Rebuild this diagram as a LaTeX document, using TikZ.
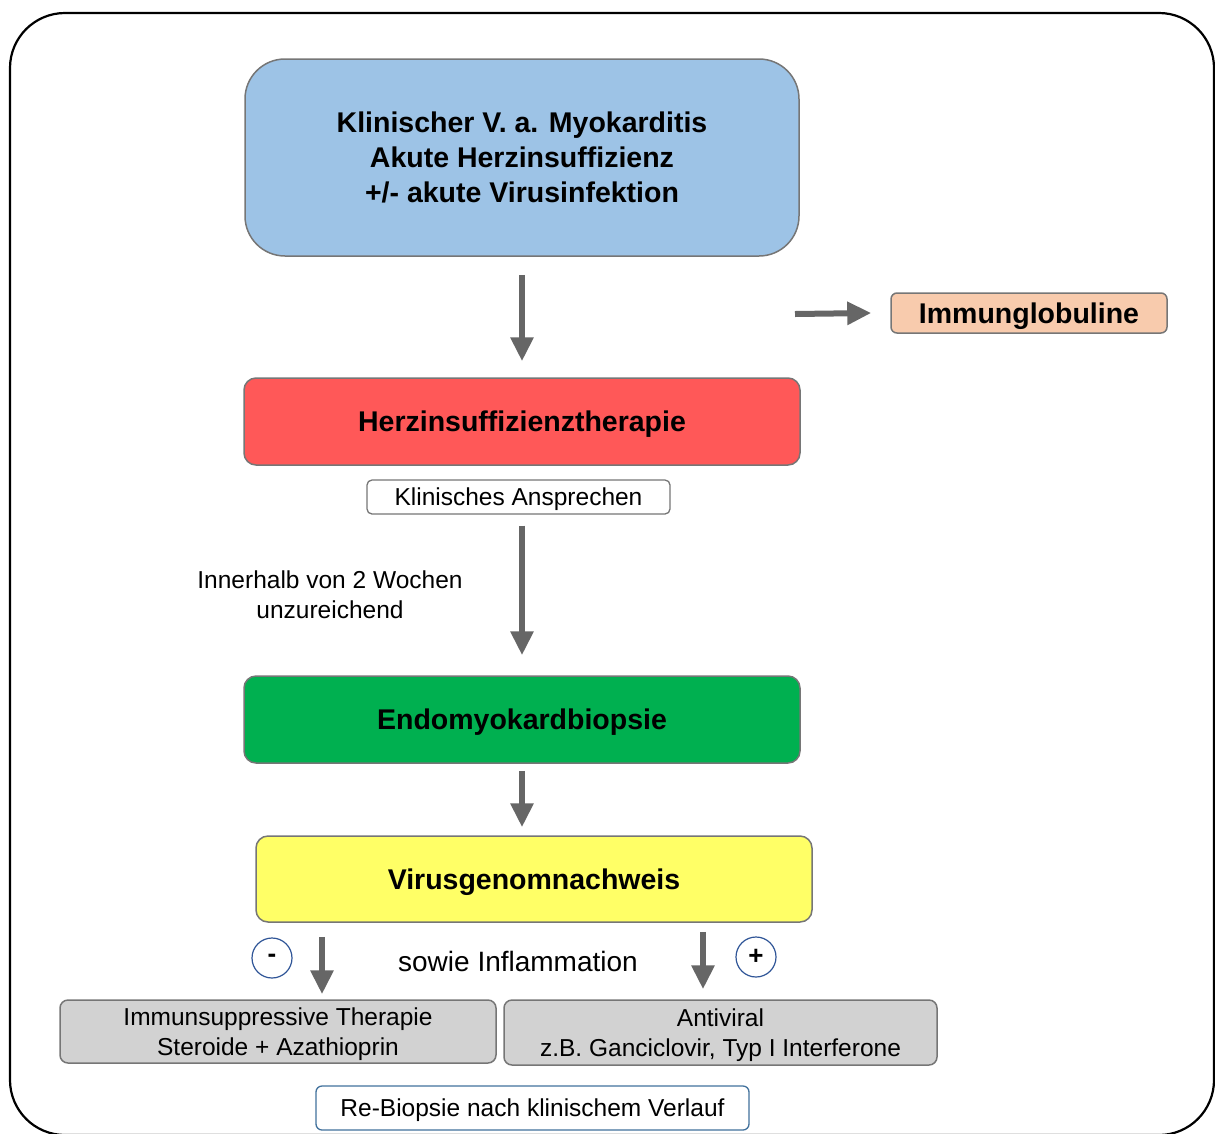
\documentclass[tikz,border=0pt]{standalone}
\usepackage{fontspec}
\setmainfont{Liberation Sans}
\usetikzlibrary{arrows.meta}
\definecolor{bluefill}{RGB}{157,195,230}
\definecolor{redfill}{RGB}{255,88,88}
\definecolor{greenfill}{RGB}{0,176,80}
\definecolor{yellowfill}{RGB}{255,255,102}
\definecolor{peachfill}{RGB}{248,203,173}
\definecolor{grayfill}{RGB}{210,210,210}
\definecolor{boxborder}{RGB}{118,118,118}
\definecolor{arrowgray}{RGB}{102,102,102}
\definecolor{navyline}{RGB}{47,85,151}
\definecolor{blueline}{RGB}{65,113,156}
\tikzset{
  titlefont/.style={font=\fontsize{28.5}{35}\selectfont\bfseries},
  plainfont/.style={font=\fontsize{24.5}{30}\selectfont},
  colbox/.style={draw=boxborder, line width=1.5pt, rounded corners=12pt, inner sep=0pt, align=center, titlefont, text depth=0pt},
  whitebox/.style={draw=boxborder, line width=1.3pt, rounded corners=5pt, fill=white, inner sep=0pt, align=center, plainfont, text depth=0pt},
  graybox/.style={draw=boxborder, line width=1.5pt, rounded corners=8pt, fill=grayfill, inner sep=0pt, align=center, plainfont, text depth=0pt},
  signcirc/.style={draw=navyline, line width=1.2pt, circle, minimum size=40pt, inner sep=0pt, font=\fontsize{26}{26}\selectfont\bfseries},
  garrow/.style={draw=arrowgray, line width=6pt, -{Triangle[width=22pt,length=24pt]}},
}
\begin{document}
\begin{tikzpicture}[x=1pt,y=-1pt]
\useasboundingbox (0,0) rectangle (1215,1133);
\draw[line width=2.2pt, rounded corners=55pt] (10,13) rectangle (1214,1135);

\node[colbox, text depth=, fill=bluefill, rounded corners=40pt, minimum width=554pt, minimum height=197pt] (top) at (522,157.5)
  {Klinischer V. a. Myokarditis\\Akute Herzinsuffizienz\\+/- akute Virusinfektion};
\node[colbox, fill=peachfill, rounded corners=6pt, minimum width=276pt, minimum height=40pt] (ig) at (1029,313) {Immunglobuline};
\node[colbox, fill=redfill, minimum width=556pt, minimum height=87pt] (red) at (522,421.5) {Herzinsuffizienztherapie};
\node[whitebox, minimum width=303pt, minimum height=34pt] (ans) at (518.5,497) {Klinisches Ansprechen};
\node[align=center, plainfont, inner sep=0pt] (inner) at (330,595) {Innerhalb von 2 Wochen\\unzureichend};
\node[colbox, fill=greenfill, minimum width=556pt, minimum height=87pt] (green) at (522,719.5) {Endomyokardbiopsie};
\node[colbox, fill=yellowfill, minimum width=556pt, minimum height=86pt] (yellow) at (534,879) {Virusgenomnachweis};
\node[signcirc] (minus) at (272,958) {-};
\node[signcirc] (plus) at (756,957) {+};
\node[font=\fontsize{28}{30}\selectfont, inner sep=0pt, text depth=0pt] (sowie) at (518,961) {sowie Inflammation};
\node[graybox, minimum width=436pt, minimum height=63pt] (gl) at (278,1031.5) {Immunsuppressive Therapie\\Steroide + Azathioprin};
\node[graybox, minimum width=433pt, minimum height=65pt] (gr) at (720.5,1032.5) {Antiviral\\z.B. Ganciclovir, Typ I Interferone};
\node[whitebox, draw=blueline, rounded corners=6pt, minimum width=433pt, minimum height=44pt] (rebio) at (532.5,1108) {Re-Biopsie nach klinischem Verlauf};

\coordinate (igsrc) at (795,314);
\draw[garrow] ([yshift=-18pt]top.south) -- ([yshift=16pt]red.north);
\draw[garrow] (igsrc) -- ([xshift=-19pt]ig.west);
\draw[garrow] ([xshift=3.5pt,yshift=-11pt]ans.south) -- ([yshift=20pt]green.north);
\draw[garrow] ([yshift=-7pt]green.south) -- ([yshift=8pt]yellow.north -| green.north);
\draw[garrow] ([xshift=-212pt,yshift=-14pt]yellow.south) -- ([xshift=44pt,yshift=5pt]gl.north);
\draw[garrow] ([xshift=169pt,yshift=-9pt]yellow.south) -- ([xshift=-17.5pt,yshift=10pt]gr.north);
\end{tikzpicture}
\end{document}
